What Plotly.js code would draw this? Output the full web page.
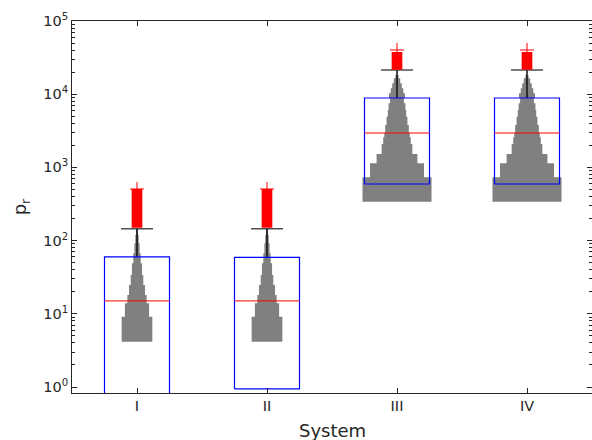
<!DOCTYPE html>
<html>
<head>
<meta charset="utf-8">
<script src="https://cdn.plot.ly/plotly-3.0.1.min.js"></script>
<style>html,body{margin:0;padding:0;background:#fff;}#chart{width:592px;height:440px;}</style>
</head>
<body>
<div id="chart"></div>
<script>
// ---- data ----
var categories = ['I', 'II', 'III', 'IV'];
var q1 = [0.8, 0.94, 593, 593];
var medians = [15, 15, 2950, 2950];
var q3 = [60, 59, 8870, 8870];
var upperWhisker = [145, 145, 21400, 21400];
var outlierLow = [150, 150, 21500, 21500];
var outlierHigh = [507, 507, 37700, 37700];
var outlierMax = [507, 507, 40200, 40200];

// histogram (distribution) bins per system: edges and relative counts
var histEdgesI = [4.16, 9.13, 13.9, 18.1, 24.7, 33.9, 48.9, 67, 91.8, 119, 145];
var histCountsI = [100, 79, 63, 52, 41, 33, 24, 17, 11, 6];
var histEdgesII = [4.16, 9.13, 13.9, 18.1, 24.7, 33.9, 48.9, 67, 91.8, 119, 145];
var histCountsII = [100, 79, 63, 52, 41, 33, 24, 17, 11, 6];
var histEdgesIII = [340, 733, 1138, 1525, 2090, 2577, 2980, 3793, 4930, 6085, 7510, 8790, 10280, 12040, 14090, 16490, 18290];
var histCountsIII = [225, 176, 133, 100, 90, 83, 77, 68, 60, 55, 45, 52, 41, 31, 21, 10];
var histEdgesIV = [340, 733, 1138, 1525, 2090, 2577, 2980, 3793, 4930, 6085, 7510, 8790, 10280, 12040, 14090, 16490, 18290];
var histCountsIV = [225, 176, 133, 100, 90, 83, 77, 68, 60, 55, 45, 52, 41, 31, 21, 10];

var yTickVals = [1, 10, 100, 1000, 10000, 100000];
var yTickText = ['10<sup>0</sup>', '10<sup>1</sup>', '10<sup>2</sup>', '10<sup>3</sup>', '10<sup>4</sup>', '10<sup>5</sup>'];
var xTitle = 'System';
var yTitle = 'p<sub>r</sub>';

// ---- styles ----
var AX = '#262626';
var FONT = 'DejaVu Sans';
var BOX_HALF = 0.25;
var CAP_HALF = 0.123;
var OUT_W = 0.082;
var COUNT_SCALE = 0.00236; // x-units per count unit

var hist = [[histEdgesI, histCountsI], [histEdgesII, histCountsII], [histEdgesIII, histCountsIII], [histEdgesIV, histCountsIV]];

var traces = [];
var pos = categories.map(function (c, i) { return i + 1; });

// grey stepped distributions
hist.forEach(function (h, i) {
  var e = h[0], c = h[1], cx = pos[i];
  var xs = [], ys = [];
  for (var k = 0; k < c.length; k++) {
    var hw = c[k] * COUNT_SCALE / 2;
    xs.push(cx - hw, cx - hw); ys.push(e[k], e[k + 1]);
  }
  for (var k = c.length - 1; k >= 0; k--) {
    var hw = c[k] * COUNT_SCALE / 2;
    xs.push(cx + hw, cx + hw); ys.push(e[k + 1], e[k]);
  }
  traces.push({x: xs, y: ys, type: 'scatter', mode: 'lines', fill: 'toself', fillcolor: '#808080',
    line: {width: 0, color: '#808080'}, hoverinfo: 'skip', showlegend: false});
});

// whiskers
var wx = [], wy = [], cxs = [], cys = [];
pos.forEach(function (p, i) {
  wx.push(p, p, null); wy.push(q3[i], upperWhisker[i], null);
  cxs.push(p - CAP_HALF, p + CAP_HALF, null); cys.push(upperWhisker[i], upperWhisker[i], null);
});
traces.push({x: wx, y: wy, type: 'scatter', mode: 'lines', line: {color: '#111', width: 1.5}, hoverinfo: 'skip', showlegend: false});
traces.push({x: cxs, y: cys, type: 'scatter', mode: 'lines', line: {color: '#333', width: 1.3}, hoverinfo: 'skip', showlegend: false});

// boxes
var bx = [], by = [];
pos.forEach(function (p, i) {
  bx.push(p - BOX_HALF, p + BOX_HALF, p + BOX_HALF, p - BOX_HALF, p - BOX_HALF, null);
  by.push(q1[i], q1[i], q3[i], q3[i], q1[i], null);
});
traces.push({x: bx, y: by, type: 'scatter', mode: 'lines', line: {color: '#0000ff', width: 1.2}, hoverinfo: 'skip', showlegend: false});

// medians
var mx = [], my = [];
pos.forEach(function (p, i) {
  mx.push(p - BOX_HALF, p + BOX_HALF, null); my.push(medians[i], medians[i], null);
});
traces.push({x: mx, y: my, type: 'scatter', mode: 'lines', line: {color: '#ff0000', width: 1}, hoverinfo: 'skip', showlegend: false});

// outliers (dense band + extreme marker)
var ox = [], oy = [];
pos.forEach(function (p, i) {
  ox.push(p - OUT_W / 2, p + OUT_W / 2, p + OUT_W / 2, p - OUT_W / 2, p - OUT_W / 2, null);
  oy.push(outlierLow[i], outlierLow[i], outlierHigh[i], outlierHigh[i], outlierLow[i], null);
});
traces.push({x: ox, y: oy, type: 'scatter', mode: 'lines', fill: 'toself', fillcolor: '#ff0000',
  line: {width: 0, color: '#ff0000'}, hoverinfo: 'skip', showlegend: false});
traces.push({x: pos, y: outlierMax, type: 'scatter', mode: 'markers',
  marker: {symbol: 'cross-thin', size: 10, line: {color: '#ff0000', width: 1}}, hoverinfo: 'skip', showlegend: false});

// minor ticks on log axis
var minorVals = [];
for (var d = 0; d < 5; d++) for (var m = 2; m <= 9; m++) minorVals.push(m * Math.pow(10, d));

var layout = {
  width: 592, height: 440,
  margin: {l: 72, r: 0, t: 21, b: 47},
  paper_bgcolor: '#fff', plot_bgcolor: '#fff',
  font: {family: FONT, color: AX, size: 14},
  showlegend: false,
  xaxis: {
    range: [0.5, 4.5], tickmode: 'array', tickvals: pos, ticktext: categories,
    ticks: 'inside', ticklen: 5, tickcolor: AX, tickwidth: 1,
    showline: true, linecolor: AX, linewidth: 1, mirror: 'ticks',
    showgrid: false, zeroline: false,
    tickfont: {family: FONT, size: 14.5, color: AX}
  },
  yaxis: {
    type: 'log', range: [-0.082, 5],
    tickmode: 'array', tickvals: yTickVals, ticktext: yTickText,
    ticks: 'inside', ticklen: 5, tickcolor: AX, tickwidth: 1,
    minor: {tickmode: 'array', tickvals: minorVals, ticks: 'inside', ticklen: 3, tickcolor: AX, showgrid: false},
    showline: true, linecolor: AX, linewidth: 1, mirror: 'ticks',
    showgrid: false, zeroline: false,
    tickfont: {family: FONT, size: 14.5, color: AX},
    title: {text: yTitle, font: {family: FONT, size: 18, color: AX}, standoff: 11}
  },
  annotations: [{
    text: xTitle, xref: 'paper', yref: 'paper', x: 0.5, y: 0, xanchor: 'center', yanchor: 'top',
    yshift: -25, showarrow: false, font: {family: FONT, size: 18, color: AX}
  }]
};

Plotly.newPlot('chart', traces, layout, {displayModeBar: false, staticPlot: true});
</script>
</body>
</html>
